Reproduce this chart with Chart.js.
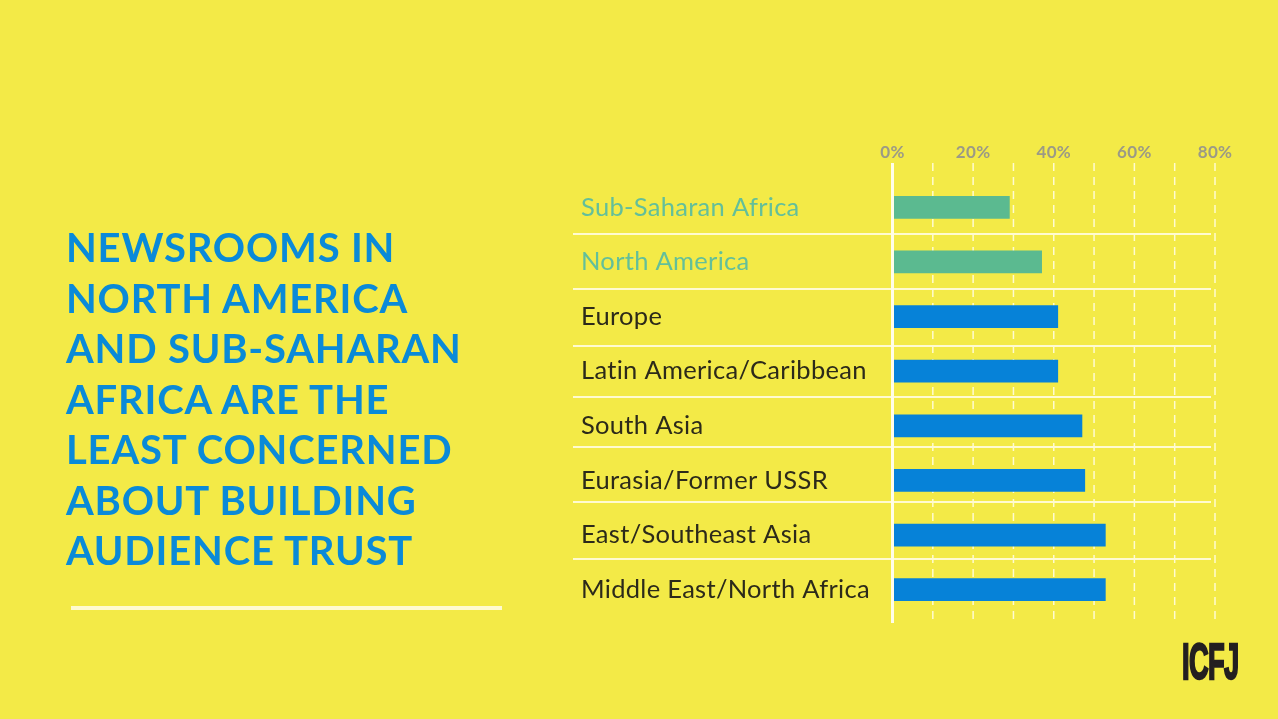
<!DOCTYPE html>
<html>
<head>
<meta charset="utf-8">
<style>
  html, body { margin: 0; padding: 0; background: #f3ea47; }
  #wrap { position: relative; width: 1278px; height: 719px; overflow: hidden; background: #f3ea47; }
  #chart { position: absolute; left: 0; top: 0; }
  #title { position: absolute; left: 66px; top: 222px; font: 700 40px/50.5px Lato, sans-serif; letter-spacing: 0.8px; color: #0a8ad8; white-space: nowrap; }
  #rule { position: absolute; left: 71px; top: 606px; width: 431px; height: 4px; background: #fffbd0; }
  #logo { position: absolute; left: 1182px; top: 637px; font: 700 42px/42px "Liberation Sans Narrow", "Liberation Sans", sans-serif; color: #231f20; letter-spacing: -1px; transform-origin: 0 0; transform: scale(0.65, 1.2); -webkit-text-stroke: 2px #231f20; }
</style>
</head>
<body>
<div id="wrap">
  <canvas id="chart" width="1278" height="719"></canvas>
  <div id="title"></div>
  <div id="rule"></div>
  <div id="logo">ICFJ</div>
</div>
<script src="https://cdn.jsdelivr.net/npm/chart.js@4"></script>
<script>
const titleLines = [
  "NEWSROOMS IN",
  "NORTH AMERICA",
  "AND SUB-SAHARAN",
  "AFRICA ARE THE",
  "LEAST CONCERNED",
  "ABOUT BUILDING",
  "AUDIENCE TRUST",
]
const regions = [
  "Sub-Saharan Africa",
  "North America",
  "Europe",
  "Latin America/Caribbean",
  "South Asia",
  "Eurasia/Former USSR",
  "East/Southeast Asia",
  "Middle East/North Africa",
]
const shares = [29, 37, 41, 41, 47, 47.7, 52.8, 52.8]
const highlighted = ["Sub-Saharan Africa", "North America"]
const axisTicks = [0, 20, 40, 60, 80]

document.getElementById("title").innerHTML = titleLines.join("<br>")

const GREEN = "#5bba90"
const BLUE = "#0682d8"
const LINE = "#fffbd0"
const separators = [234, 289, 346, 397, 447, 502, 559]

// the axis rules run past the plot area, so they are drawn by hand from the x scale
const rules = {
  id: "rules",
  beforeDraw(chart) {
    chart.ctx.letterSpacing = "0.3px"
  },
  beforeDatasetsDraw(chart) {
    const { ctx, scales: { x } } = chart
    ctx.save()
    ctx.strokeStyle = LINE
    ctx.lineWidth = 1.5
    ctx.setLineDash([8, 6])
    x.ticks.forEach((t) => {
      if (t.value === 0) return
      const px = x.getPixelForValue(t.value)
      ctx.beginPath()
      ctx.moveTo(px, 163)
      ctx.lineTo(px, 623)
      ctx.stroke()
    })
    ctx.setLineDash([])
    ctx.lineWidth = 2
    separators.forEach((y) => {
      ctx.beginPath()
      ctx.moveTo(573, y)
      ctx.lineTo(1211, y)
      ctx.stroke()
    })
    ctx.restore()
  },
  afterDatasetsDraw(chart) {
    const { ctx, scales: { x } } = chart
    const px = x.getPixelForValue(0)
    ctx.save()
    ctx.strokeStyle = "#fffde8"
    ctx.lineWidth = 3
    ctx.beginPath()
    ctx.moveTo(px, 163)
    ctx.lineTo(px, 623)
    ctx.stroke()
    ctx.restore()
  },
}

new Chart(document.getElementById("chart"), {
  type: "bar",
  data: {
    labels: regions,
    datasets: [
      {
        data: shares,
        backgroundColor: regions.map((r) => (highlighted.includes(r) ? GREEN : BLUE)),
        barThickness: 22,
      },
    ],
  },
  plugins: [rules],
  options: {
    indexAxis: "y",
    responsive: false,
    animation: false,
    layout: { padding: { left: 581, right: 63, top: 0, bottom: 102 } },
    plugins: { legend: { display: false }, tooltip: { enabled: false } },
    scales: {
      x: {
        position: "top",
        min: 0,
        max: 80,
        afterFit: (scale) => { scale.height = 180 },
        border: { display: false },
        grid: { display: false, drawTicks: false },
        ticks: {
          stepSize: 10,
          autoSkip: false,
          maxRotation: 0,
          padding: 17,
          color: "#9b9a86",
          font: { family: "Lato", weight: "700", size: 17 },
          callback: (v) => (axisTicks.includes(v) ? v + "%" : ""),
        },
      },
      y: {
        afterFit: (scale) => { scale.width = 311.5 },
        border: { display: false },
        grid: { display: false, drawTicks: false },
        ticks: {
          crossAlign: "far",
          autoSkip: false,
          color: (c) => (highlighted.includes(regions[c.index]) ? "#63bf9a" : "#2c2a1a"),
          font: { family: "Lato", size: 25.5 },
        },
      },
    },
  },
})
</script>
</body>
</html>
